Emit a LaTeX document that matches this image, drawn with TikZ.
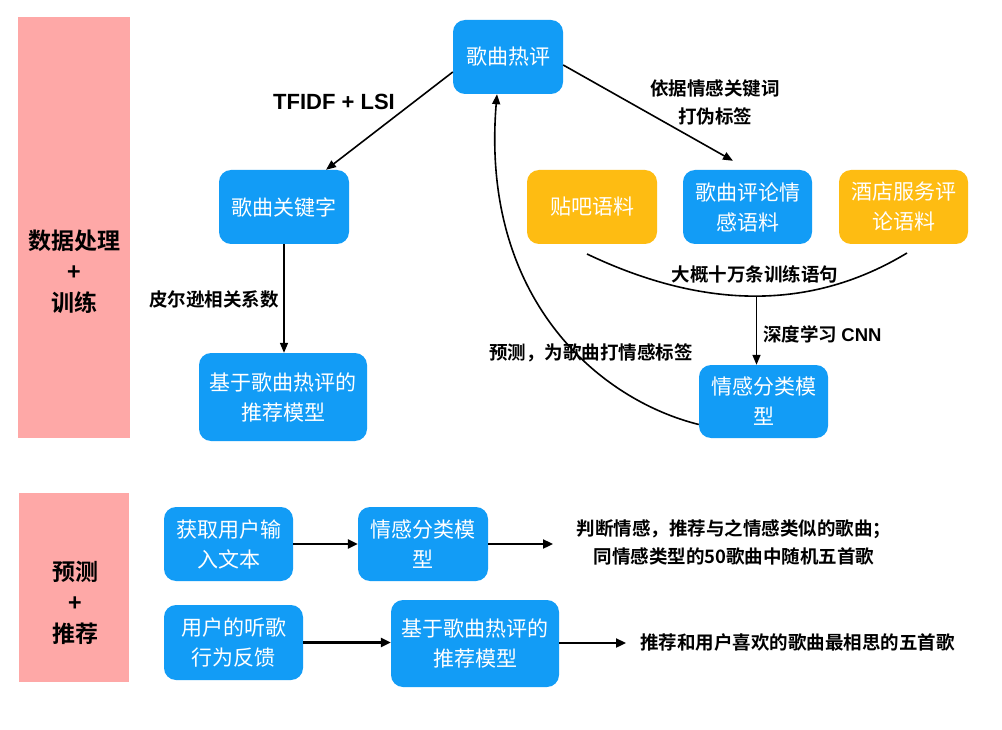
\documentclass[tikz,border=0pt]{standalone}
\usepackage{fontspec}
\setmainfont{Noto Sans CJK SC}
\newfontfamily\lblfont{Noto Sans CJK SC Bold}
\newfontfamily\boldcjk{Noto Sans CJK SC Bold}
\newfontfamily\helv{Liberation Sans}
\usetikzlibrary{arrows.meta,calc}
\definecolor{nodeblue}{RGB}{18,156,246}
\definecolor{nodeorange}{RGB}{254,188,18}
\definecolor{sidepink}{RGB}{254,168,167}
\begin{document}
\begin{tikzpicture}[x=1pt,y=-1pt,
  box/.style={fill=nodeblue, rounded corners=12pt, text=white, align=center,
    font=\fontsize{21}{30}\selectfont, inner sep=0pt},
  obox/.style={box, fill=nodeorange},
  side/.style={fill=sidepink, draw=none},
  sidetext/.style={font=\boldcjk\fontsize{23}{31}\selectfont, align=center, inner sep=0pt},
  lbl/.style={font=\lblfont\fontsize{18.5}{28}\selectfont, align=center, inner sep=0pt},
  link/.style={line width=1.6pt, -{Triangle[length=10pt,width=8pt]}},
  blink/.style={line width=2.3pt, -{Triangle[length=10pt,width=9pt]}},
]
\fill[white] (0,0) rectangle (1002,730);
\useasboundingbox (0,0) rectangle (1002,730);

% side panels
\fill[side] (18,17) rectangle (130,438);
\fill[side] (19,493) rectangle (129,682);
\node[sidetext] (s1) at (74,272) {数据处理\\+\\训练};
\node[sidetext] (s2) at (75,603) {预测\\+\\推荐};

% upper nodes
\node[box, minimum width=110, minimum height=74] (hot) at (508,57) {歌曲热评};
\node[box, minimum width=130, minimum height=74] (kw) at (284,207) {歌曲关键字};
\node[box, minimum width=168, minimum height=88] (rec) at (283,397) {基于歌曲热评的\\推荐模型};
\node[obox, minimum width=130, minimum height=74] (tieba) at (592,207) {贴吧语料};
\node[box, minimum width=129, minimum height=74] (songc) at (747.5,207) {歌曲评论情\\感语料};
\node[obox, minimum width=129, minimum height=74] (hotel) at (903.5,207) {酒店服务评\\论语料};
\node[box, minimum width=129, minimum height=73] (emo) at (763.5,401.5) {情感分类模\\型};

% lower nodes
\node[box, minimum width=129, minimum height=74] (inp) at (228.5,544) {获取用户输\\入文本};
\node[box, minimum width=130, minimum height=74] (emo2) at (423,544) {情感分类模\\型};
\node[box, minimum width=139, minimum height=75] (fb) at (233.5,642.5) {用户的听歌\\行为反馈};
\node[box, minimum width=168, minimum height=87] (rec2) at (475,643.5) {基于歌曲热评的\\推荐模型};

\coordinate (out1) at (553,544);
\coordinate (out2) at (626,643);
\node[lbl] (res1) at (734,542) {判断情感，推荐与之情感类似的歌曲；\\同情感类型的50歌曲中随机五首歌};
\node[lbl, anchor=west] (res2) at (640,642) {推荐和用户喜欢的歌曲最相思的五首歌};

% labels
\node[font=\helv\bfseries\fontsize{22}{26}\selectfont, inner sep=0pt] (tf) at (334,102) {TFIDF + LSI};
\node[lbl] (l1) at (715,102) {依据情感关键词\\打伪标签};
\node[lbl] (l2) at (214,299) {皮尔逊相关系数};
\node[lbl] (l3) at (755,274) {大概十万条训练语句};
\node[lbl, anchor=west] (l4) at (763,334) {深度学习 {\helv\bfseries CNN}};
\node[lbl] (l5) at (591,353) {预测，为歌曲打情感标签};

% upper connectors
\draw[link] ($(hot.west)+(0,15)$) -- ($(kw.north)+(42,0)$);
\draw[link] ($(hot.east)+(0,8)$) -- ($(songc.north)+(-14.5,-9)$);
\draw[link] (kw.south) -- (kw.south |- rec.north);
\coordinate (cL) at (587,254);
\coordinate (cR) at (907,253);
\coordinate (cM) at (756.5,296);
\draw[line width=1.6pt] (cL) .. controls (706,310.7) and (813,310) .. (cR);
\draw[link] (cM) -- (cM |- emo.north);
\draw[link] ($(emo.west)+(0,23)$) .. controls (600,400) and (480,300) .. ($(hot.south)+(-11,0)$);

% lower connectors
\draw[blink] (inp.east) -- (emo2.west);
\draw[blink] (emo2.east) -- (out1);
\draw[blink] (fb.east) -- (fb.east -| rec2.west);
\draw[blink] (rec2.east |- out2) -- (out2);
\end{tikzpicture}
\end{document}
